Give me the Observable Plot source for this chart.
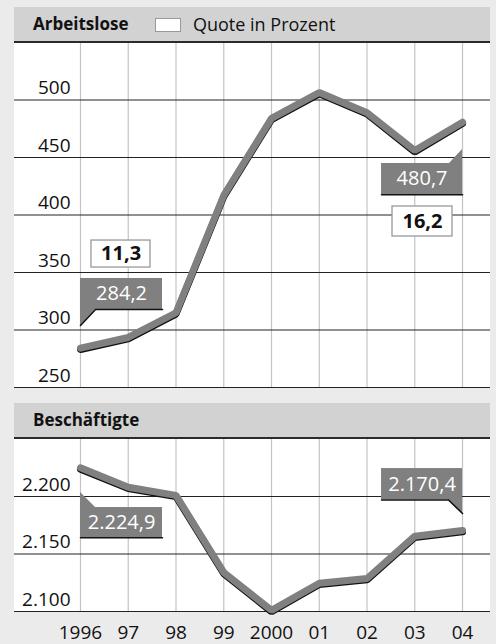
<!DOCTYPE html>
<html><head><meta charset="utf-8">
<script src="https://cdn.jsdelivr.net/npm/d3@7"></script>
<script src="https://cdn.jsdelivr.net/npm/@observablehq/plot@0.6"></script>
<style>
body{margin:0;}
#root{position:relative;width:496px;height:644px;background:#ebebeb;font-family:"Open Sans",sans-serif;overflow:hidden;color:#111}
.panel{position:absolute;left:14px;width:476px;background:#fff}
.head{position:absolute;left:14px;width:476px;height:34px;background:#d2d2d2;border-bottom:2px solid #2b2b2b;line-height:34px;font-size:17px}
.head b{position:absolute;left:19px;top:0}
.legbox{position:absolute;left:141px;top:11px;width:24px;height:12px;background:#fff;border:1px solid #999}
.legtxt{position:absolute;left:179px;top:0;font-size:18px}
.chart{position:absolute;left:0}
</style></head>
<body><div id="root">
<div class="panel" style="top:43px;height:344px"></div>
<div class="panel" style="top:439px;height:172px"></div>
<div id="top" class="chart" style="top:43px"></div>
<div id="bot" class="chart" style="top:438px"></div>
<div class="head" style="top:7px"><b>Arbeitslose</b><div class="legbox"></div><span class="legtxt">Quote in Prozent</span></div>
<div class="head" style="top:403px"><b>Beschäftigte</b></div>
</div>
<script>
const years = [1996,1997,1998,1999,2000,2001,2002,2003,2004];
const yearLabels = ["1996","97","98","99","2000","01","02","03","04"];
const arbeitslose = [284.2,293.5,315,417,484,506.5,489,456,480.7];
const beschaeftigte = [2224.9,2208,2201,2134,2101,2124.6,2128.7,2165.5,2170.4];
const ticksTop = [250,300,350,400,450,500];
const tickLabelsTop = ["250","300","350","400","450","500"];
const ticksBot = [2100,2150,2200];
const tickLabelsBot = ["2.100","2.150","2.200"];

const GRAY = "#808080";
const xDomain = [1994.618, 2004.586];
const font = "'Open Sans', sans-serif";

function callout(c) {
  const marks = [
    Plot.rect([c.box], {x1:"x1", x2:"x2", y1:"y1", y2:"y2", fill: c.fill, stroke: c.stroke || null, strokeWidth: 1.3}),
  ];
  if (c.tail) marks.push(Plot.area(c.tail, {x1:"x", y1:"y1", y2:"y2", fill: GRAY}));
  if (c.shadow) marks.push(Plot.line(c.shadow, {x:"x", y:"y", stroke:"#111", strokeWidth:1.6}));
  marks.push(Plot.text([c], {x: d=>d.tx, y: d=>d.ty, text: d=>d.text, fill: c.color, fontSize: 20, fontWeight: c.bold ? "bold" : "normal"}));
  return marks;
}

const calloutsTop = [
  {box:{x1:1996.23,x2:1997.466,y1:354.3,y2:377.8}, fill:"#fff", stroke:"#999", tx:1996.85, ty:366.1, text:"11,3", color:"#111", bold:true},
  {box:{x1:1996,x2:1997.717,y1:317.8,y2:344.8}, fill:GRAY, tx:1996.86, ty:331.3, text:"284,2", color:"#fff",
   tail:[{x:1996,y1:318.4,y2:303.9},{x:1996.314,y1:318.4,y2:317.8}],
   shadow:[{x:1996,y:303.9},{x:1996.314,y:317.8},{x:1997.717,y:317.8}]},
  {box:{x1:2002.304,x2:2004,y1:417.8,y2:444.8}, fill:GRAY, tx:2003.152, ty:431.3, text:"480,7", color:"#fff",
   tail:[{x:2003.728,y1:444.2,y2:444.8},{x:2004,y1:444.2,y2:457}],
   shadow:[{x:2002.304,y:417.6},{x:2004,y:417.6}]},
  {box:{x1:2002.534,x2:2003.79,y1:381.3,y2:407.4}, fill:"#fff", stroke:"#999", tx:2003.162, ty:394.3, text:"16,2", color:"#111", bold:true}
];
const calloutsBot = [
  {box:{x1:1996,x2:1997.717,y1:2164.3,y2:2190.4}, fill:GRAY, tx:1996.86, ty:2177.4, text:"2.224,9", color:"#fff",
   tail:[{x:1996,y1:2189.8,y2:2203.5},{x:1996.314,y1:2189.8,y2:2190.4}],
   shadow:[{x:1996,y:2164.1},{x:1997.717,y:2164.1}]},
  {box:{x1:2002.304,x2:2004,y1:2197.0,y2:2224.3}, fill:GRAY, tx:2003.152, ty:2210.6, text:"2.170,4", color:"#fff",
   tail:[{x:2003.707,y1:2197.6,y2:2197.0},{x:2004,y1:2197.6,y2:2185.2}],
   shadow:[{x:2002.304,y:2197.0},{x:2003.707,y:2197.0},{x:2004,y:2185.2}]}
];

function series(vals){ return years.map((y,i)=>({year:y, value:vals[i]})); }

function chart(vals, ticks, tickLabels, yDomain, height, marginBottom, callouts, withX) {
  const data = series(vals);
  const marks = [
    Plot.ruleX(years, {stroke:"#c4c4c4", strokeWidth:1.2}),
    Plot.ruleY(ticks, {stroke:"#222", strokeWidth:1.2}),
    Plot.text(ticks, {y: d=>d, text: (d,i)=>tickLabels[i], frameAnchor:"left", dx:56, dy:-12, textAnchor:"end", fontSize:19, fill:"#111"}),
    ...callouts.flatMap(callout),
    Plot.line(data, {x:"year", y:"value", stroke:"#111", strokeWidth:7, dy:1.3, strokeLinecap:"round", strokeLinejoin:"miter"}),
    Plot.line(data, {x:"year", y:"value", stroke:GRAY, strokeWidth:7, strokeLinecap:"round", strokeLinejoin:"miter"})
  ];
  if (withX) marks.push(Plot.text(years, {x: d=>d, y: yDomain[0], text: (d,i)=>yearLabels[i], dy:21, fontSize:19, fill:"#111"}));
  return Plot.plot({
    width: 496, height, marginLeft:14, marginRight:6, marginTop:0, marginBottom,
    x:{domain:xDomain, axis:null},
    y:{domain:yDomain, axis:null},
    style:{background:"transparent", fontFamily:font, overflow:"visible"},
    marks
  });
}

document.getElementById("top").append(chart(arbeitslose, ticksTop, tickLabelsTop, [250, 250+344/1.15], 346, 2, calloutsTop, false));
document.getElementById("bot").append(chart(beschaeftigte, ticksBot, tickLabelsBot, [2100, 2100+173/1.15], 206, 33, calloutsBot, true));
</script>
</body></html>
